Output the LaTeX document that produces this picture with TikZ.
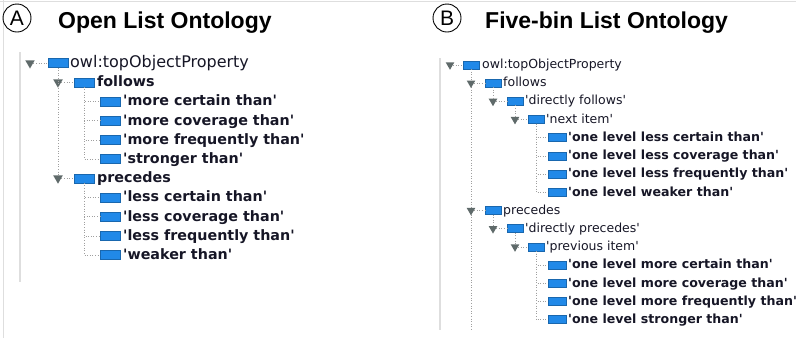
\documentclass[tikz,border=0pt]{standalone}
\usepackage{fontspec}
\newfontfamily\treefont{DejaVu Sans}
\newfontfamily\titlefont{Liberation Sans}
\usetikzlibrary{shapes.geometric}
\definecolor{propblue}{RGB}{33,137,232}
\definecolor{togglegray}{RGB}{95,106,106}
\definecolor{framegray}{RGB}{222,222,222}
\definecolor{treetext}{RGB}{22,22,38}
\tikzset{tglbox/.style={
    regular polygon,
    regular polygon sides=3,
    shape border rotate=180,
    fill=togglegray,
    inner sep=0pt,
    minimum size=11pt
  },
  icnbox/.style={rectangle,fill=propblue,draw=propblue!75!black,
    line width=0.3pt,inner sep=0pt,minimum width=20pt,minimum height=9pt},
  smallicn/.style={icnbox,minimum width=16pt,minimum height=8pt},
  leaficn/.style={icnbox,minimum width=18pt,minimum height=8pt},
  lblA/.style={anchor=base west,inner sep=0pt,text=treetext,
    font=\treefont\fontsize{16}{18}\selectfont},
  boldA/.style={lblA,font=\treefont\bfseries\fontsize{14.3}{18}\selectfont},
  lblB/.style={anchor=base west,inner sep=0pt,text=treetext,
    font=\treefont\fontsize{12.5}{15}\selectfont},
  boldB/.style={lblB,font=\treefont\bfseries\fontsize{12.6}{15}\selectfont},
  treelink/.style={draw=gray!75,dotted,line width=0.6pt},
  framebar/.style={draw=framegray,line width=1.5pt},
  markbox/.style={circle,draw,line width=0.9pt,minimum size=28pt,inner sep=0pt,
    font=\titlefont\fontsize{21}{21}\selectfont},
  titlebox/.style={anchor=base west,inner sep=0pt,
    font=\titlefont\bfseries\fontsize{23}{23}\selectfont}
}
\begin{document}
\begin{tikzpicture}[x=1pt,y=-1pt]
  \useasboundingbox (0,0) rectangle (798,338);
  % panel frames
  \draw[framebar] (0,1.5) -- (796,1.5);
  \draw[framebar] (3.5,0) -- (3.5,338);
  \draw[framebar] (20,52) -- (20,282);
  \draw[framebar] (440,58) -- (440,330);

  % headings
  \node[markbox] (markA) at (17,18) {A};
  \node[titlebox] (titleA) at (58,28) {Open List Ontology};
  \node[markbox] (markB) at (447,18) {B};
  \node[titlebox] (titleB) at (485,28) {Five-bin List Ontology};

  % (A) open list
  \node[tglbox] (tA0) at (30,63) {};
  \node[icnbox] (iA0) at (58,63) {};
  \node[lblA] (nA0) at (70,67) {owl:topObjectProperty};
  \node[tglbox] (tA1) at (58,82.2) {};
  \node[icnbox] (iA1) at (84,82.2) {};
  \node[boldA] (nA1) at (97,86.7) {follows};
  \node[tglbox] (tA6) at (58,178.2) {};
  \node[icnbox] (iA6) at (84,178.2) {};
  \node[boldA] (nA6) at (97,182.7) {precedes};
  \foreach \k/\txt in {2/{'more certain than'},3/{'more coverage than'},
      4/{'more frequently than'},5/{'stronger than'}} {
    \node[icnbox] (iA\k) at (110,{63+19.2*\k}) {};
    \node[boldA] (nA\k) at (123,{67.5+19.2*\k}) {\txt};
    \draw[treelink] (iA1) |- (iA\k);
  }
  \foreach \k/\txt in {7/{'less certain than'},8/{'less coverage than'},
      9/{'less frequently than'},10/{'weaker than'}} {
    \node[icnbox] (iA\k) at (110,{63+19.2*\k}) {};
    \node[boldA] (nA\k) at (123,{67.5+19.2*\k}) {\txt};
    \draw[treelink] (iA6) |- (iA\k);
  }
  \draw[treelink] (tA0) -- (iA0);
  \draw[treelink] (iA0) -- (tA6);
  \draw[treelink] (tA1) -- (iA1);
  \draw[treelink] (tA6) -- (iA6);

  % (B) five-bin list
  \node[tglbox,minimum size=10pt] (tB0) at (450,64.8) {};
  \node[smallicn] (iB0) at (471,64.8) {};
  \node[lblB] (nB0) at (482,68.5) {owl:topObjectProperty};
  \coordinate (endB) at (471,330);
  \draw[treelink] (tB0) -- (iB0);
  \draw[treelink] (iB0) -- (endB);
  % follows branch
  \node[tglbox,minimum size=10pt] (tB1) at (471,83) {};
  \node[smallicn] (iB1) at (493,83) {};
  \node[lblB] (nB1) at (503,86.7) {follows};
  \node[tglbox,minimum size=10pt] (tB2) at (493,101.2) {};
  \node[smallicn] (iB2) at (515,101.2) {};
  \node[lblB] (nB2) at (525,104.9) {'directly follows'};
  \node[tglbox,minimum size=10pt] (tB3) at (515,119.4) {};
  \node[smallicn] (iB3) at (536,119.4) {};
  \node[lblB] (nB3) at (546,123.1) {'next item'};
  \draw[treelink] (tB1) -- (iB1);
  \draw[treelink] (iB1) -- (tB2);
  \draw[treelink] (tB2) -- (iB2);
  \draw[treelink] (iB2) -- (tB3);
  \draw[treelink] (tB3) -- (iB3);
  \foreach \k/\txt in {4/{'one level less certain than'},5/{'one level less coverage than'},
      6/{'one level less frequently than'},7/{'one level weaker than'}} {
    \node[leaficn] (iB\k) at (557,{64.8+18.2*\k}) {};
    \node[boldB] (nB\k) at (568,{68.7+18.2*\k}) {\txt};
    \draw[treelink] (iB3) |- (iB\k);
  }
  % precedes branch
  \node[tglbox,minimum size=10pt] (tB8) at (471,210.4) {};
  \node[smallicn] (iB8) at (493,210.4) {};
  \node[lblB] (nB8) at (503,214.1) {precedes};
  \node[tglbox,minimum size=10pt] (tB9) at (493,228.6) {};
  \node[smallicn] (iB9) at (515,228.6) {};
  \node[lblB] (nB9) at (525,232.3) {'directly precedes'};
  \node[tglbox,minimum size=10pt] (tB10) at (515,246.8) {};
  \node[smallicn] (iB10) at (536,246.8) {};
  \node[lblB] (nB10) at (546,250.5) {'previous item'};
  \draw[treelink] (tB8) -- (iB8);
  \draw[treelink] (iB8) -- (tB9);
  \draw[treelink] (tB9) -- (iB9);
  \draw[treelink] (iB9) -- (tB10);
  \draw[treelink] (tB10) -- (iB10);
  \foreach \k/\txt in {11/{'one level more certain than'},12/{'one level more coverage than'},
      13/{'one level more frequently than'},14/{'one level stronger than'}} {
    \node[leaficn] (iB\k) at (557,{64.8+18.2*\k}) {};
    \node[boldB] (nB\k) at (568,{68.7+18.2*\k}) {\txt};
    \draw[treelink] (iB10) |- (iB\k);
  }
\end{tikzpicture}
\end{document}
